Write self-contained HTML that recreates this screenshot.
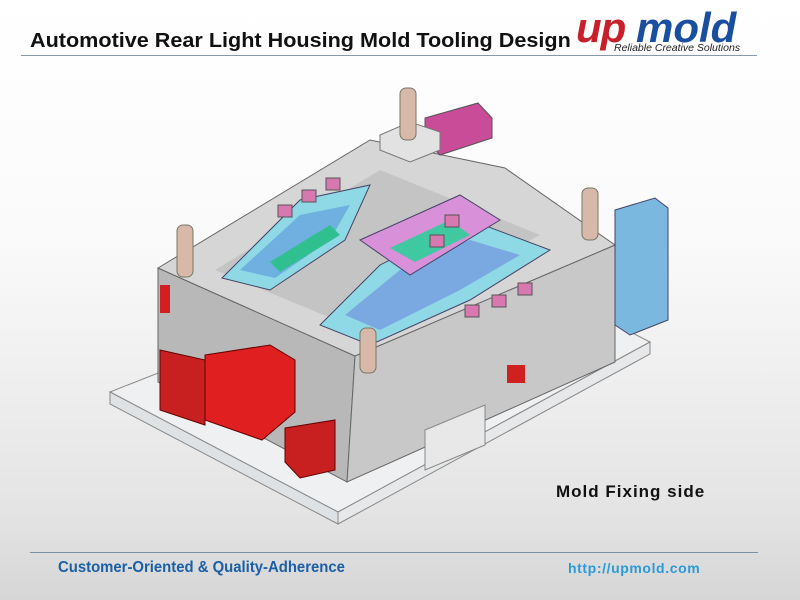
<!DOCTYPE html>
<html><head><style>
body{margin:0;width:800px;height:600px;overflow:hidden;background:linear-gradient(#fff 0%,#fafafa 40%,#e4e4e4 85%,#d6d6d6 100%);font-family:"Liberation Sans",sans-serif;position:relative}
.t{position:absolute;left:30px;top:30px;font-size:20px;font-weight:bold;color:#111;transform:scaleX(1.08);transform-origin:left;white-space:nowrap}
.line{position:absolute;left:21px;width:736px;top:55px;height:1px;background:#8899aa}
.fl{position:absolute;left:30px;width:728px;top:552px;height:1px;background:#7a8fa8}
.f1{position:absolute;left:58px;top:559px;font-size:16px;color:#1a5fa8;font-weight:bold;transform:scaleX(0.93);transform-origin:left;white-space:nowrap}
.f2{position:absolute;left:568px;top:560px;font-size:14px;color:#2a9ad8;font-weight:bold;letter-spacing:0.6px}
.mf{position:absolute;left:556px;top:482px;font-size:17px;font-weight:bold;color:#111;letter-spacing:1px;white-space:nowrap}
</style></head><body>
<div class="t">Automotive Rear Light Housing Mold Tooling Design</div>
<div class="line"></div>
<svg style="position:absolute;left:0;top:0" width="800" height="600">
<text x="576" y="42" font-family="Liberation Sans" font-weight="bold" font-style="italic" font-size="42" fill="#c8202a" letter-spacing="-1">up</text>
<text x="636" y="42" font-family="Liberation Sans" font-weight="bold" font-style="italic" font-size="42" fill="#1a4fa0" letter-spacing="0">mold</text>
<text x="614" y="51" font-family="Liberation Sans" font-style="italic" font-size="10.5" fill="#222">Reliable Creative Solutions</text>
<polygon points="110,392 470,250 650,342 338,512" fill="#eef0f2" stroke="#888" stroke-width="1"/>
<polygon points="110,392 338,512 338,524 110,404" fill="#dfe2e4" stroke="#888"/>
<polygon points="338,512 650,342 650,354 338,524" fill="#e6e8ea" stroke="#888"/>
<polygon points="158,268 355,356 347,482 158,382" fill="#b8b8b8" stroke="#666"/>
<polygon points="355,356 615,245 615,362 347,482" fill="#c8c8c8" stroke="#666"/>
<polygon points="158,268 370,140 505,168 615,245 355,356" fill="#d6d6d6" stroke="#666"/>
<polygon points="215,270 380,170 540,235 360,330" fill="#c4c4c4"/>
<polygon points="222,278 300,200 370,185 345,240 270,290" fill="#8fd8e6" stroke="#446"/>
<polygon points="240,270 300,215 350,205 330,240 275,278" fill="#6fb0e0"/>
<polygon points="320,325 380,265 470,220 550,250 470,300 370,345" fill="#8fd8e6" stroke="#446"/>
<polygon points="345,315 400,270 470,240 520,255 460,290 380,330" fill="#7aa8e0"/>
<polygon points="360,240 460,195 500,220 410,275" fill="#d890d8" stroke="#446"/>
<polygon points="390,248 450,220 470,235 415,262" fill="#40c8a0"/>
<polygon points="270,262 330,225 340,235 280,272" fill="#30c090"/>
<g fill="#d878b0" stroke="#555">
<rect x="278" y="205" width="14" height="12"/><rect x="302" y="190" width="14" height="12"/><rect x="326" y="178" width="14" height="12"/>
<rect x="465" y="305" width="14" height="12"/><rect x="492" y="295" width="14" height="12"/><rect x="518" y="283" width="14" height="12"/>
<rect x="430" y="235" width="14" height="12"/><rect x="445" y="215" width="14" height="12"/>
</g>
<polygon points="425,118 478,103 492,118 492,138 440,155 425,140" fill="#c84c98" stroke="#555"/>
<polygon points="380,135 410,122 440,132 440,150 410,162 380,150" fill="#e2e2e2" stroke="#777"/>
<g fill="#d8b8a8" stroke="#776">
<rect x="400" y="88" width="16" height="52" rx="6"/>
<rect x="177" y="225" width="16" height="52" rx="6"/>
<rect x="582" y="188" width="16" height="52" rx="6"/>
<rect x="360" y="328" width="16" height="45" rx="6"/>
</g>
<polygon points="615,210 655,198 668,208 668,320 630,335 615,325" fill="#7ab8e0" stroke="#446"/>
<polygon points="205,355 270,345 295,360 295,412 262,440 205,420" fill="#e02020" stroke="#600"/>
<polygon points="160,350 205,360 205,425 160,410" fill="#c82020" stroke="#600"/>
<polygon points="285,428 335,420 335,470 300,478 285,462" fill="#c82020" stroke="#600"/>
<rect x="160" y="285" width="10" height="28" fill="#d02020"/>
<rect x="507" y="365" width="18" height="18" fill="#d02020"/>
<polygon points="425,430 485,405 485,445 425,470" fill="#e8e8e8" stroke="#888"/>
</svg>
<div class="mf">Mold Fixing side</div>
<div class="fl"></div>
<div class="f1">Customer-Oriented &amp; Quality-Adherence</div>
<div class="f2">http://upmold.com</div>
</body></html>
